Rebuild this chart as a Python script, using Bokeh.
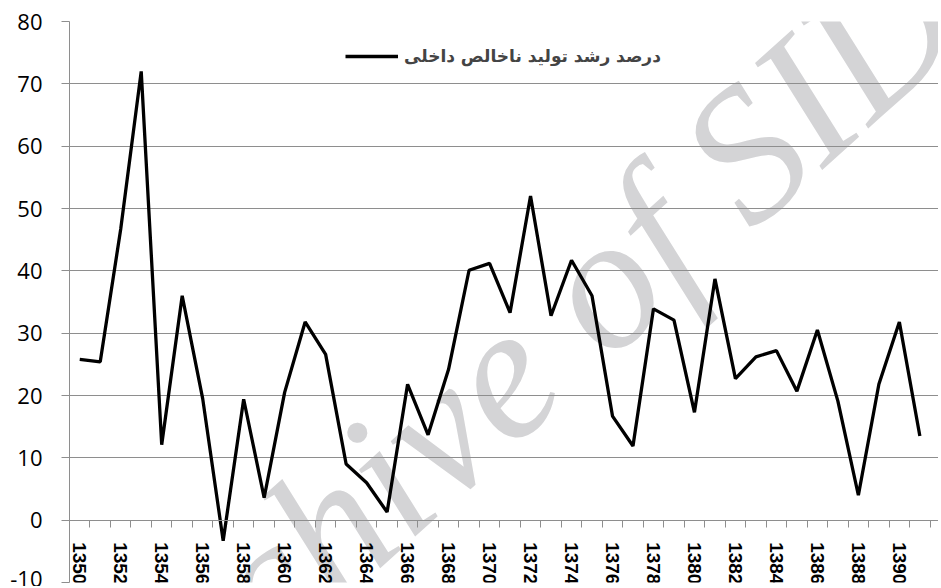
import math
from bokeh.plotting import figure
from bokeh.models import Range1d, LinearAxis, FixedTicker, Label
from bokeh.embed import file_html
from bokeh.resources import INLINE

# ---- data ----
years = list(range(1350, 1392))
growth = [25.8, 25.4, 46.7, 72.0, 12.1, 36.0, 19.5, -3.3, 19.4, 3.6,
          20.5, 31.8, 26.6, 9.0, 6.0, 1.3, 21.8, 13.7, 24.2, 40.1,
          41.2, 33.3, 52.0, 32.8, 41.7, 36.0, 16.7, 11.9, 33.9, 32.1,
          17.3, 38.7, 22.7, 26.2, 27.2, 20.7, 30.5, 19.1, 4.0, 21.8,
          31.8, 13.5]
label_years = list(range(1350, 1391, 2))
y_ticks = list(range(-10, 81, 10))
series_name = "درصد رشد تولید ناخالص داخلی"
watermark_text = "Archive of SID"

GRID = "#8e8e8e"

p = figure(width=938, height=586, output_backend="svg", toolbar_location=None,
           x_range=Range1d(1349.5, 1391.91), y_range=Range1d(-10, 80),
           x_axis_location=None,
           min_border_left=69, min_border_top=21, min_border_right=0, min_border_bottom=4)
p.outline_line_color = None
p.background_fill_color = "white"
p.border_fill_color = "white"

# y axis
p.yaxis.ticker = FixedTicker(ticks=y_ticks)
p.yaxis.major_tick_in = 0
p.yaxis.major_tick_out = 8
p.yaxis.major_tick_line_color = GRID
p.yaxis.minor_tick_line_color = None
p.yaxis.axis_line_color = GRID
p.yaxis.major_label_text_font = "Open Sans"
p.yaxis.major_label_text_font_size = "22px"
p.yaxis.major_label_text_color = "black"
p.yaxis.major_label_standoff = 19
p.yaxis.major_label_overrides = {-10: "-10"}
p.ygrid.ticker = FixedTicker(ticks=y_ticks)
p.ygrid.grid_line_color = GRID
p.ygrid.grid_line_width = 1
for g in p.xgrid:
    g.visible = False

# x axis crossing at zero
minor = [y - 0.5 for y in years] + [years[-1] + 0.5]
xa = LinearAxis(fixed_location=0,
                ticker=FixedTicker(ticks=label_years, minor_ticks=minor),
                major_tick_in=0, major_tick_out=0, major_tick_line_color=None,
                minor_tick_in=0, minor_tick_out=7, minor_tick_line_color=GRID,
                axis_line_color=GRID,
                major_label_orientation=-math.pi / 2,
                major_label_standoff=15,
                major_label_text_font="Liberation Sans",
                major_label_text_font_style="bold",
                major_label_text_font_size="19px",
                major_label_text_color="black")
p.add_layout(xa, "below")

# watermark
wm = Label(x=1371.1, y=25.2, text=watermark_text, angle=math.radians(42),
           text_font="Liberation Serif", text_font_style="italic",
           text_font_size="190px", text_color="#d4d4d6",
           text_align="center", text_baseline="alphabetic", level="image")
p.add_layout(wm)

# series
p.line(years, growth, line_color="black", line_width=3.3, legend_label=series_name)

lg = p.legend[0]
lg.location = (276, 516)
lg.border_line_color = None
lg.background_fill_alpha = 0
lg.glyph_width = 53
lg.label_standoff = 6
lg.label_text_font = "DejaVu Sans"
lg.label_text_font_style = "bold"
lg.label_text_font_size = "17px"
lg.padding = 10
lg.margin = 0

open("out.html", "w").write(file_html(p, INLINE))
